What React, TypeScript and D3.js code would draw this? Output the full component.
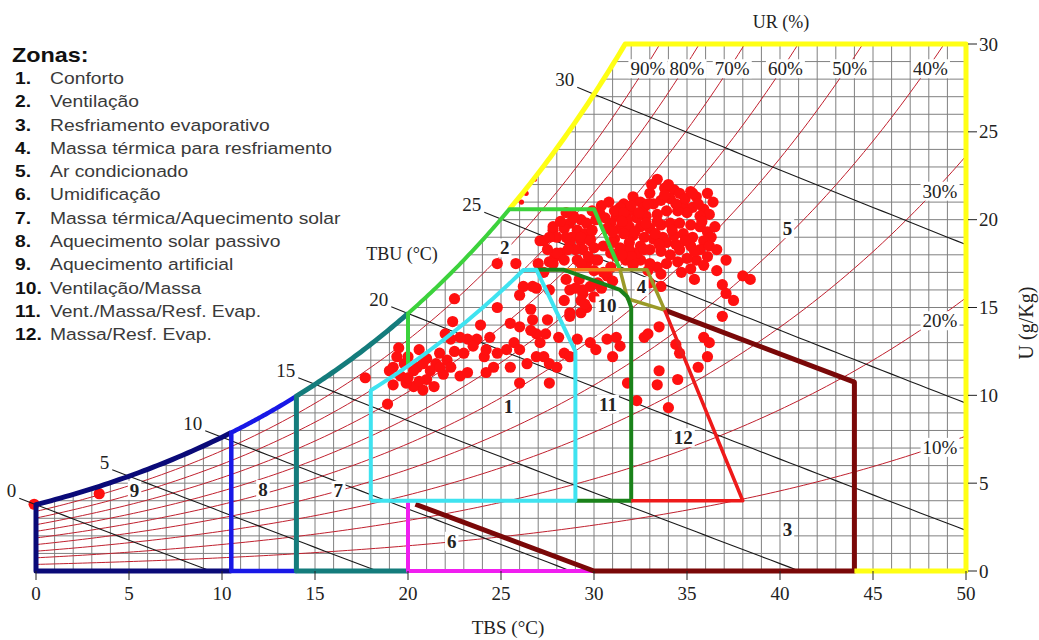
import { useEffect, useRef } from "react";
import * as d3 from "d3";

// axes: TBS (°C) along the bottom, U (g/kg) on the right
const tbsTicks = [0, 5, 10, 15, 20, 25, 30, 35, 40, 45, 50];
const uTicks = [0, 5, 10, 15, 20, 25, 30];
const rhLevels = [0.1, 0.2, 0.3, 0.4, 0.5, 0.6, 0.7, 0.8, 0.9];
const rhTopLabels = [0.9, 0.8, 0.7, 0.6, 0.5, 0.4];
const rhSideLabels = [0.3, 0.2, 0.1];
const wetBulbs = [0, 5, 10, 15, 20, 25, 30];

const zonas = [
  "Conforto",
  "Ventilação",
  "Resfriamento evaporativo",
  "Massa térmica para resfriamento",
  "Ar condicionado",
  "Umidificação",
  "Massa térmica/Aquecimento solar",
  "Aquecimento solar passivo",
  "Aquecimento artificial",
  "Ventilação/Massa",
  "Vent./Massa/Resf. Evap.",
  "Massa/Resf. Evap.",
];

// zone number, TBS, U
const zoneNums: [string, number, number][] = [
  ["1", 25.4, 9.4], ["2", 25.2, 18.4], ["3", 40.4, 2.35], ["4", 32.55, 16.2],
  ["5", 40.4, 19.5], ["6", 22.35, 1.7], ["7", 16.25, 4.6], ["8", 12.2, 4.65],
  ["9", 5.3, 4.6], ["10", 30.7, 15.1], ["11", 30.75, 9.5], ["12", 34.8, 7.6],
];

// hourly climate records: TBS (°C), U (g/kg)
const climate: [number, number][] = [
  [33.4, 22.3], [33.8, 21.8], [34.3, 21.7], [33.0, 21.5], [32.1, 21.3], [32.5, 21.0], [31.6, 20.9], [31.4, 20.7],
  [31.9, 20.5], [32.7, 20.7], [33.2, 20.9], [33.6, 21.1], [34.1, 21.2], [34.6, 21.5], [35.2, 21.6], [35.5, 21.3],
  [36.1, 21.5], [36.4, 21.0], [34.8, 20.9], [35.3, 20.7], [35.9, 20.6], [36.2, 20.3], [35.7, 20.2], [35.0, 20.4],
  [34.5, 20.5], [33.9, 20.5], [33.4, 20.3], [32.8, 20.2], [32.3, 20.1], [31.8, 20.0], [31.2, 20.2], [30.9, 19.8],
  [30.4, 20.8], [30.3, 20.4], [30.7, 19.5], [31.4, 19.5], [31.9, 19.6], [32.5, 19.6], [33.0, 19.5], [33.6, 19.7],
  [34.1, 19.8], [34.6, 19.8], [35.2, 19.7], [35.7, 19.6], [36.1, 19.3], [36.3, 19.0], [35.9, 18.8], [35.3, 19.0],
  [34.8, 19.2], [34.3, 19.1], [33.7, 19.0], [33.2, 18.9], [32.7, 19.0], [32.1, 19.1], [31.6, 19.2], [31.1, 18.9],
  [31.9, 18.7], [32.5, 18.5], [33.0, 18.3], [33.6, 18.2], [34.1, 18.0], [34.6, 18.3], [35.2, 18.5], [35.7, 18.3],
  [36.2, 18.5], [36.1, 17.9], [35.5, 17.7], [35.0, 17.8], [34.5, 17.6], [33.9, 17.5], [33.4, 17.3], [33.6, 16.9],
  [33.0, 17.5], [32.5, 17.7], [32.3, 18.1], [31.9, 18.3], [31.4, 18.4], [31.0, 18.7], [30.9, 18.1], [31.2, 17.9],
  [31.7, 17.7], [37.1, 17.7], [36.6, 17.1], [38.0, 16.8], [38.4, 16.6], [36.9, 16.3], [37.1, 15.8], [37.5, 15.4],
  [35.4, 16.6], [36.9, 14.5], [28.9, 20.2], [29.3, 20.0], [29.6, 19.8], [28.7, 19.8], [28.4, 19.5], [29.1, 19.4],
  [29.5, 19.2], [29.8, 18.9], [29.3, 18.8], [28.8, 19.0], [27.8, 19.4], [28.0, 19.0], [27.3, 18.8], [28.2, 18.1],
  [27.9, 17.9], [27.6, 17.6], [29.1, 17.7], [29.6, 17.5], [30.2, 17.7], [30.0, 17.1], [30.9, 17.3], [30.7, 16.8],
  [31.0, 16.5], [30.2, 16.4], [29.8, 16.2], [29.4, 15.8], [29.3, 15.4], [29.6, 15.0], [28.5, 16.6], [28.7, 14.7],
  [29.3, 14.7], [33.0, 16.4], [33.6, 16.2], [24.8, 17.5], [25.8, 17.5], [27.1, 18.8], [27.6, 19.0], [28.0, 18.1],
  [28.4, 17.7], [27.8, 17.5], [28.7, 18.7], [29.3, 19.0], [29.8, 18.8], [29.4, 18.3], [30.1, 17.7], [29.3, 17.5],
  [26.2, 16.2], [26.7, 16.2], [26.9, 16.1], [26.0, 15.7], [27.6, 16.0], [29.4, 16.0], [30.0, 15.6], [29.5, 15.2],
  [28.7, 14.5], [22.5, 15.5], [24.8, 15.0], [25.5, 14.1], [26.6, 14.9], [26.7, 14.3], [27.5, 14.3], [28.1, 13.3],
  [27.4, 13.5], [26.9, 13.5], [26.6, 13.7], [26.0, 13.9], [25.7, 13.0], [26.0, 12.6], [25.3, 12.6], [24.8, 12.4],
  [24.4, 13.3], [23.7, 13.2], [23.2, 13.2], [22.8, 13.3], [22.3, 13.2], [22.0, 13.5], [21.7, 12.4], [22.1, 12.0],
  [22.3, 11.6], [21.5, 11.8], [21.2, 11.4], [21.0, 10.9], [21.4, 10.5], [20.8, 10.3], [20.3, 10.5], [19.9, 10.7],
  [19.6, 11.1], [19.8, 11.8], [19.4, 12.2], [19.2, 11.6], [19.0, 11.4], [20.5, 11.6], [20.8, 11.8], [20.3, 11.4],
  [22.8, 11.1], [23.2, 11.3], [24.1, 12.2], [24.2, 12.6], [24.6, 11.6], [25.5, 11.6], [26.4, 11.8], [26.9, 12.2],
  [27.3, 12.2], [27.6, 11.8], [28.0, 11.6], [28.4, 12.4], [28.7, 12.2], [27.6, 10.7], [26.0, 10.7], [24.2, 11.3],
  [27.1, 13.0], [17.7, 11.0], [18.9, 9.5], [29.1, 13.2], [29.8, 13.0], [30.1, 12.6], [30.7, 13.2], [31.2, 13.3],
  [31.4, 12.8], [31.0, 12.2], [31.8, 10.7], [32.7, 13.3], [32.3, 9.7], [33.5, 11.4], [33.4, 10.6], [34.5, 10.9],
  [34.0, 9.3], [35.9, 13.3], [36.2, 13.0], [35.6, 11.6], [36.1, 12.2], [34.4, 12.9], [34.6, 12.4], [32.9, 13.5],
  [33.5, 13.9], [28.7, 16.0], [27.8, 19.6], [28.2, 19.9], [28.9, 20.1], [28.5, 19.0], [3.4, 4.4], [-0.1, 3.8],
  [30.8, 21.0], [31.1, 20.5], [31.6, 20.4], [32.0, 20.8], [32.4, 20.4], [32.9, 20.9], [30.6, 20.1], [31.0, 19.3],
  [31.5, 19.9], [32.2, 19.3], [32.8, 19.8], [33.3, 19.2], [33.9, 18.7], [34.4, 18.6], [34.9, 18.8], [35.4, 18.2],
  [33.8, 21.4], [34.4, 20.9], [35.6, 20.9], [34.9, 21.2], [33.1, 22.0], [34.0, 22.0], [35.8, 19.9], [36.5, 19.6],
  [36.6, 18.3], [34.2, 19.4], [33.4, 19.9], [32.7, 18.3], [32.0, 17.9], [31.5, 18.0], [30.5, 18.5], [30.0, 18.4],
  [29.7, 17.9], [29.0, 18.3], [28.6, 18.3], [27.5, 18.3], [29.9, 19.4], [30.1, 20.0], [29.9, 20.5], [28.5, 20.4],
  [35.9, 17.4], [35.2, 17.2], [34.7, 17.0], [33.5, 18.6], [32.9, 17.1], [32.1, 17.4], [30.5, 17.0], [30.4, 16.1],
  [29.2, 16.6], [29.0, 16.1], [28.4, 15.4], [27.3, 17.0], [27.0, 17.5], [35.3, 21.5], [19.5, 12.7], [20.0, 12.2],
  [20.6, 12.6], [21.0, 12.1], [21.9, 11.2], [20.0, 11.0], [19.2, 10.6], [20.6, 10.8], [21.7, 11.6], [22.5, 12.5],
  [23.0, 12.4], [23.5, 12.8], [22.4, 14.2], [23.9, 14.0],
];
const satMarks: [number, number][] = [[26.1, 21.0], [26.35, 21.5], [26.8, 22.3]];

// psychrometrics at sea level
const P_ATM = 101.325;
const pws = (t: number) => 0.61094 * Math.exp((17.625 * t) / (t + 243.04));
const wAt = (t: number, rh: number) => {
  const pw = rh * pws(t);
  return (1000 * 0.622 * pw) / (P_ATM - pw);
};
const tAt = (rh: number, w: number) => {
  let lo = -10, hi = 80;
  for (let i = 0; i < 60; i++) {
    const m = (lo + hi) / 2;
    if (wAt(m, rh) < w) lo = m; else hi = m;
  }
  return (lo + hi) / 2;
};
const wWet = (t: number, twb: number) => {
  const ws = wAt(twb, 1) / 1000;
  return (1000 * ((2501 - 2.326 * twb) * ws - 1.006 * (t - twb))) / (2501 + 1.86 * t - 4.186 * twb);
};

// zone outlines; ["rh", rh, t0, t1] follows a humidity curve
type Leg = [number, number] | ["rh", number, number, number];
const tSatTop = tAt(1, 30);
const tVentTop = tAt(1, 20.6);
const z9: Leg[] = [[10.5, 0], [0, 0], ["rh", 1, 0, 10.5]];
const z8: Leg[] = [["rh", 1, 14, 10.5], [10.5, 0], [14, 0]];
const z7: Leg[] = [["rh", 1, 20, 14], [14, 0], [20, 0]];
const z6: Leg[] = [[20, 3.9], [20, 0], [30, 0]];
const z3: Leg[] = [[20.4, 3.8], [30, 0], [44, 0], [44, 10.75], [33.8, 14.85]];
const z5: Leg[] = [["rh", 1, tVentTop, tSatTop], [50, 30], [50, 0], [44, 0]];
const z2: Leg[] = [[20, wAt(20, 0.8)], ["rh", 1, 20, tVentTop], [30, 20.6], [31.4, 17.15]];
const z4top: Leg[] = [[26.9, 17.15], [31.4, 17.15]];
const z4: Leg[] = [[31.4, 17.15], [32.85, 17.15], [33.8, 14.85], [31.8, 15.5], [31.4, 17.15]];
const z10: Leg[] = [[26.9, 17.15], [28.35, 17.15], [31.4, 16.0], [31.8, 15.6], [32, 15.0], [32, 4], [29, 4]];
const z12: Leg[] = [[32, 4], [38, 4], [33.8, 14.85]];
const z1: Leg[] = [[18, 4], ["rh", 0.8, 18, 26.2], [26.9, 17.15], [29, 12.5], [29, 4], [18, 4]];

const expand = (legs: Leg[]) =>
  legs.flatMap((l) =>
    l[0] === "rh"
      ? d3.range(0, 41).map((i) => {
          const [, rh, t0, t1] = l as ["rh", number, number, number];
          const t = t0 + ((t1 - t0) * i) / 40;
          return [t, wAt(t, rh)] as [number, number];
        })
      : [l as [number, number]]
  );

const SERIF = "'Liberation Serif', 'DejaVu Serif', serif";
const SANS = "'Liberation Sans', Arial, sans-serif";

export default function App() {
  const ref = useRef<SVGSVGElement>(null);

  useEffect(() => {
    const svg = d3.select(ref.current);
    svg.selectAll("*").remove();

    const x = d3.scaleLinear().domain([0, 50]).range([36, 966]);
    const y = d3.scaleLinear().domain([0, 30]).range([571, 44]);
    const line = d3.line<[number, number]>().x((d) => x(d[0])).y((d) => y(d[1]));

    const satPts: [number, number][] = d3.range(0, tSatTop, 0.25).map((t) => [t, wAt(t, 1)] as [number, number]);
    satPts.push([tSatTop, 30]);
    svg.append("clipPath").attr("id", "under-sat")
      .append("path")
      .attr("d", line([[0, 0], ...satPts, [50, 30], [50, 0]]) + "Z");

    const plot = svg.append("g").attr("clip-path", "url(#under-sat)");

    // 1 °C x 1 g/kg grid
    plot.selectAll(".gx").data(d3.range(0, 51)).join("line")
      .attr("x1", (d) => x(d)).attr("x2", (d) => x(d))
      .attr("y1", y(0)).attr("y2", y(30))
      .attr("stroke", "#808080").attr("stroke-width", 1);
    plot.selectAll(".gy").data(d3.range(0, 31)).join("line")
      .attr("x1", x(0)).attr("x2", x(50))
      .attr("y1", (d) => y(d)).attr("y2", (d) => y(d))
      .attr("stroke", "#808080").attr("stroke-width", 1);

    // relative humidity curves
    plot.selectAll(".rh").data(rhLevels).join("path")
      .attr("d", (rh) => {
        const tEnd = Math.min(50, tAt(rh, 30.5));
        const pts = d3.range(0, tEnd, 0.25).map((t) => [t, wAt(t, rh)] as [number, number]);
        pts.push([tEnd, wAt(tEnd, rh)]);
        return line(pts);
      })
      .attr("fill", "none").attr("stroke", "#c0202e").attr("stroke-width", 1);

    // climate points
    svg.append("g").selectAll("circle").data(climate).join("circle")
      .attr("cx", (d) => x(d[0])).attr("cy", (d) => y(d[1])).attr("r", 5.6)
      .attr("fill", "#ff1010");
    svg.append("g").selectAll("circle").data(satMarks).join("circle")
      .attr("cx", (d) => x(d[0])).attr("cy", (d) => y(d[1])).attr("r", 2.6)
      .attr("fill", "#ff1010");

    // wet bulb lines
    plot.selectAll(".wb").data(wetBulbs).join("path")
      .attr("d", (twb) => line(d3.range(twb, 50.01, 0.5).map((t) => [t, wWet(t, twb)] as [number, number])))
      .attr("fill", "none").attr("stroke", "#1a1a1a").attr("stroke-width", 1.1);
    svg.append("g").selectAll("path").data(wetBulbs).join("path")
      .attr("d", (twb) => line([[twb - 0.9, wWet(twb - 0.9, twb)], [twb, wWet(twb, twb)]]))
      .attr("stroke", "#1a1a1a").attr("stroke-width", 1.1);

    // zone outlines
    const outlines: [Leg[], string, number][] = [
      [z9, "#0a0a78", 5], [z8, "#1818e6", 4.5], [z7, "#147c7c", 5], [z6, "#f01ef0", 4],
      [z3, "#7a0808", 5], [z5, "#ffff14", 5], [z2, "#3cd23c", 4], [z4top, "#f07a1a", 3.5],
      [z4, "#9a9a28", 3.5], [z10, "#1a821a", 4], [z12, "#ee1a1a", 3.5], [z1, "#3fe3f0", 4],
    ];
    svg.append("g").selectAll("path").data(outlines).join("path")
      .attr("d", (d) => line(expand(d[0])))
      .attr("fill", "none").attr("stroke", (d) => d[1]).attr("stroke-width", (d) => d[2])
      .attr("stroke-linejoin", "round");

    const labels = svg.append("g").attr("font-family", SERIF).attr("fill", "#222");
    const boxed = (px: number, py: number, str: string, size: number, weight = "normal", anchor = "middle") => {
      const t = labels.append("text")
        .attr("x", px).attr("y", py).attr("dy", "0.35em")
        .attr("text-anchor", anchor).attr("font-size", size).attr("font-weight", weight)
        .text(str);
      const b = (t.node() as SVGTextElement).getBBox();
      labels.insert("rect", () => t.node())
        .attr("x", b.x - 2).attr("y", b.y + 1).attr("width", b.width + 4).attr("height", b.height - 2)
        .attr("fill", "#fff");
    };

    zoneNums.forEach(([s, t, w]) => boxed(x(t), y(w), s, 19, "bold"));
    rhTopLabels.forEach((rh) => boxed(x(tAt(rh, 28.6)) + 3, y(28.6), `${Math.round(rh * 100)}%`, 19));
    rhSideLabels.forEach((rh) => boxed(x(48.6), y(wAt(48.3, rh)), `${Math.round(rh * 100)}%`, 19));
    wetBulbs.forEach((twb) => {
      const tl = twb - 0.9;
      labels.append("text")
        .attr("x", x(tl) - 3).attr("y", y(wWet(tl, twb)) - 1)
        .attr("text-anchor", "end").attr("font-size", 19)
        .text(twb);
    });

    // axes
    const axes = svg.append("g").attr("font-family", SERIF).attr("fill", "#222");
    axes.selectAll(".bt").data(tbsTicks).join("line")
      .attr("x1", (d) => x(d)).attr("x2", (d) => x(d)).attr("y1", y(0)).attr("y2", y(0) + 9)
      .attr("stroke", "#222").attr("stroke-width", 1);
    axes.selectAll(".bl").data(tbsTicks).join("text")
      .attr("x", (d) => x(d)).attr("y", 600).attr("text-anchor", "middle").attr("font-size", 19)
      .text((d) => d);
    axes.selectAll(".rt").data(uTicks).join("line")
      .attr("x1", x(50) + 2).attr("x2", x(50) + 11).attr("y1", (d) => y(d)).attr("y2", (d) => y(d))
      .attr("stroke", "#222").attr("stroke-width", 1);
    axes.selectAll(".rl").data(uTicks).join("text")
      .attr("x", x(50) + 13).attr("y", (d) => y(d)).attr("dy", "0.35em").attr("font-size", 19)
      .text((d) => d);

    axes.append("text").attr("x", 508).attr("y", 634).attr("text-anchor", "middle").attr("font-size", 19)
      .text("TBS (°C)");
    axes.append("text").attr("transform", "translate(1033,323) rotate(-90)").attr("text-anchor", "middle")
      .attr("font-size", 20).text("U (g/Kg)");
    axes.append("text").attr("x", 781).attr("y", 28).attr("text-anchor", "middle").attr("font-size", 18)
      .text("UR (%)");
    axes.append("text").attr("x", 402).attr("y", 260).attr("text-anchor", "middle").attr("font-size", 18)
      .text("TBU (°C)");

    // legend
    const legend = svg.append("g").attr("font-family", SANS).attr("transform", "translate(12,0) scale(1.17,1)");
    legend.append("text").attr("x", 0).attr("y", 62).attr("font-size", 20).attr("font-weight", "bold")
      .attr("fill", "#111").text("Zonas:");
    zonas.forEach((z, i) => {
      const yy = 84 + i * 23.3;
      legend.append("text").attr("x", 2.6).attr("y", yy).attr("font-size", 16.5).attr("font-weight", "bold")
        .attr("fill", "#111").text(`${i + 1}.`);
      legend.append("text").attr("x", 32.5).attr("y", yy).attr("font-size", 16.5)
        .attr("fill", "#3a3a3a").text(z);
    });
  }, []);

  return (
    <svg
      ref={ref}
      width={1039}
      height={640}
      style={{ position: "absolute", left: 0, top: 0, background: "#fff" }}
    />
  );
}
